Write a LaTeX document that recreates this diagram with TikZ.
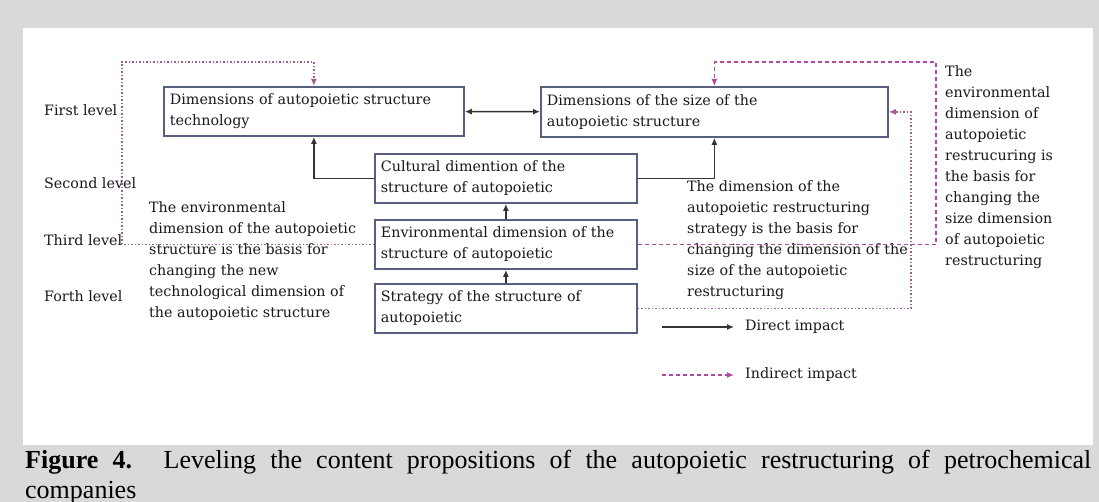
\documentclass[tikz,border=0pt]{standalone}
\usepackage{fontspec}
\setmainfont{DejaVu Serif}
\newfontfamily\capfont{Liberation Serif}
\usetikzlibrary{arrows.meta}
\definecolor{boxblue}{RGB}{88,94,128}
\definecolor{indpurple}{RGB}{178,72,160}
\definecolor{pagegray}{RGB}{217,217,217}
\newcommand{\diagfont}{\fontsize{14.3}{21}\selectfont}

\begin{document}
\begin{tikzpicture}[x=1pt, y=-1pt, >={Latex[length=7pt,width=6pt]},
    dimbox/.style = {draw=boxblue, line width=1.8pt, fill=white, anchor=north west,
      inner xsep=6pt, inner ysep=0pt, align=left, font=\diagfont, text=black!90},
    direct/.style = {line width=1.6pt, color=black!80},
    indirect/.style = {line width=1.3pt, color=indpurple, dash pattern=on 4pt off 3pt},
    indirectdot/.style = {line width=1.3pt, color=indpurple!60!gray, dash pattern=on 1.5pt off 2pt},
    note/.style = {anchor=north west, inner sep=0pt, align=left, font=\diagfont, text=black!90}]
    \useasboundingbox (0,0) rectangle (1099,502);
    \fill[pagegray] (0,0) rectangle (1099,502);
    \fill[white] (23,28) rectangle (1093,445);

    \foreach \lvl/\y in {First/110, Second/183, Third/240, Forth/296}
      \draw (44,\y) node[anchor=west, inner sep=0pt, font=\diagfont, text=black!90] (lvl\lvl) {\lvl{} level};

    \draw (163,86) node[dimbox, text width=288pt, minimum height=49pt] (techdim) {Dimensions of autopoietic structure\\technology};
    \draw (540,86) node[dimbox, text width=335pt, minimum height=50pt] (sizedim) {Dimensions of the size of the\\autopoietic structure};
    \draw (374,153) node[dimbox, text width=250pt, minimum height=49pt] (cult) {Cultural dimention of the\\structure of autopoietic};
    \draw (374,219) node[dimbox, text width=250pt, minimum height=49pt] (env) {Environmental dimension of the\\structure of autopoietic};
    \draw (374,283) node[dimbox, text width=250pt, minimum height=49pt] (strat) {Strategy of the structure of\\autopoietic};

    \draw (149,201) node[note] (envnote) {The environmental\\dimension of the autopoietic\\structure is the basis for\\changing the new\\technological dimension of\\the autopoietic structure};
    \draw (687,180) node[note] (stratnote) {The dimension of the\\autopoietic restructuring\\strategy is the basis for\\changing the dimension of the\\size of the autopoietic\\restructuring};
    \draw (945,65) node[note] (sizenote) {The\\environmental\\dimension of\\autopoietic\\restrucuring is\\the basis for\\changing the\\size dimension\\of autopoietic\\restructuring};

    \draw[direct, <->] (techdim) -- (sizedim);
    \draw[direct, ->] (cult.west) -| (techdim.south);
    \draw[direct, ->] (cult.east) -| (sizedim.south);
    \draw[direct, ->] (env) -- (cult);
    \draw[direct, ->] (strat) -- (env);

    \coordinate (leftcorner) at (122,62);
    \coordinate (rightcorner) at (936,62);
    \coordinate (innerx) at (911,0);
    \draw[indirectdot, ->] (env.west) -| (leftcorner) -| (techdim.north);
    \draw[indirect, ->] (env.east) -| (rightcorner) -| (sizedim.north);
    \draw[indirectdot, ->] (strat.east) -- (strat.east -| innerx) |- (sizedim.east);

    \draw (745,327) node[anchor=west, inner sep=0pt, font=\diagfont, text=black!90] (directlab) {Direct impact};
    \draw (745,375) node[anchor=west, inner sep=0pt, font=\diagfont, text=black!90] (indirectlab) {Indirect impact};
    \coordinate (directtail) at (662,327);
    \coordinate (indirecttail) at (662,375);
    \draw[direct, ->, shorten >=11pt] (directtail) -- (directlab.west);
    \draw[indirect, ->, shorten >=11pt] (indirecttail) -- (indirectlab.west);

    \draw (25,450) node[anchor=north west, inner sep=0pt, text width=1066pt, align=justify,
      font=\capfont\fontsize{26}{30}\selectfont] (caption) {\textbf{Figure 4.} Leveling the content propositions of the autopoietic restructuring of petrochemical\linebreak companies};
\end{tikzpicture}
\end{document}
